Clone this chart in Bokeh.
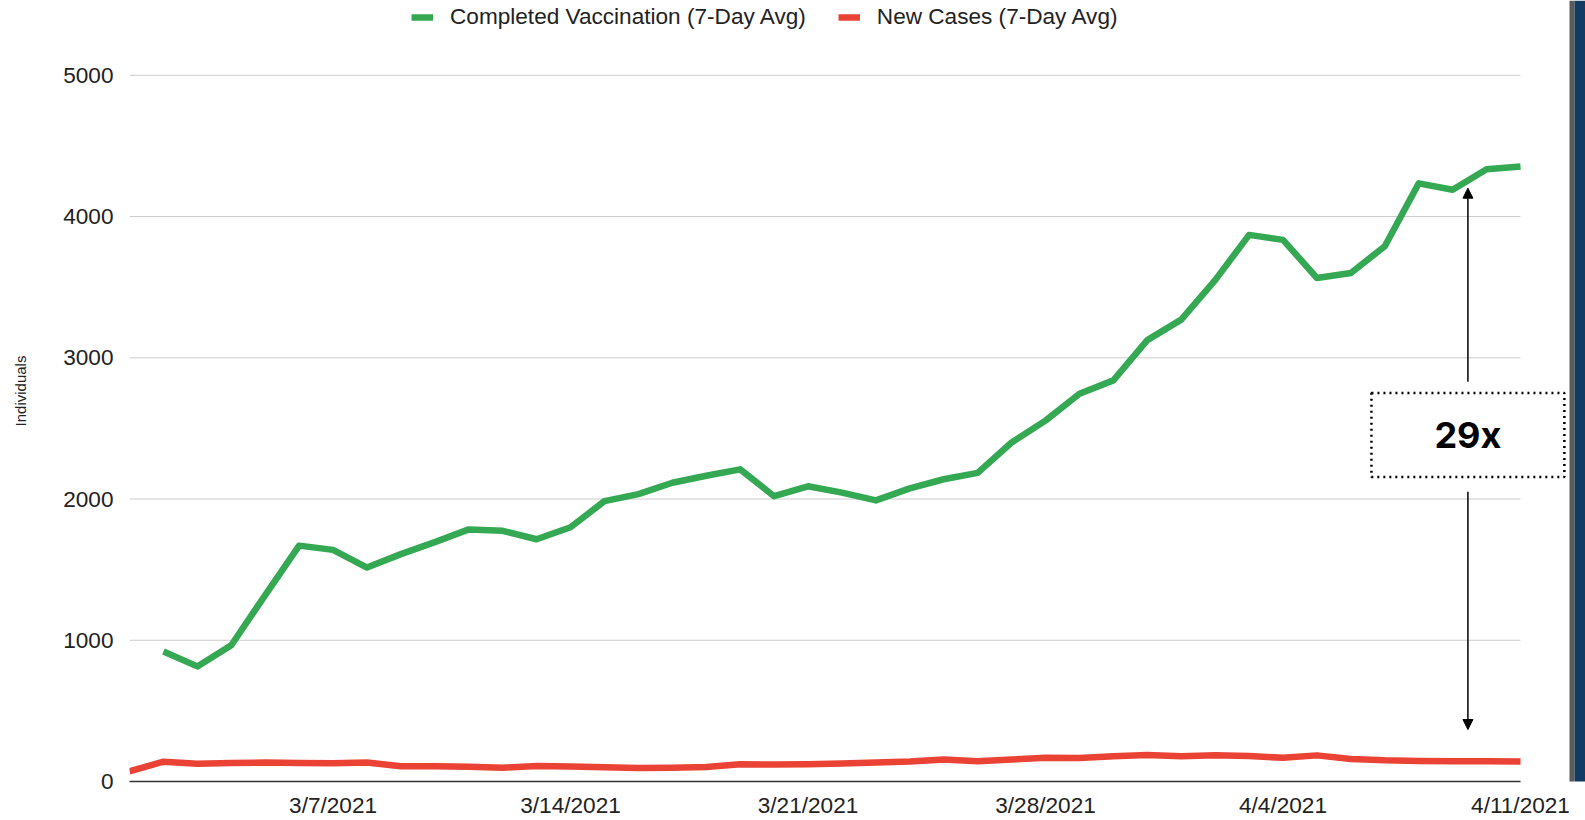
from datetime import datetime
from bokeh.plotting import figure
from bokeh.models import (Range1d, FixedTicker, Legend, LegendItem, Arrow, NormalHead, Label,
                          BoxAnnotation)
from bokeh.embed import file_html
from bokeh.resources import INLINE

# ---------------- data ----------------
dates = ["3/1/2021", "3/2/2021", "3/3/2021", "3/4/2021", "3/5/2021", "3/6/2021", "3/7/2021",
         "3/8/2021", "3/9/2021", "3/10/2021", "3/11/2021", "3/12/2021", "3/13/2021", "3/14/2021",
         "3/15/2021", "3/16/2021", "3/17/2021", "3/18/2021", "3/19/2021", "3/20/2021", "3/21/2021",
         "3/22/2021", "3/23/2021", "3/24/2021", "3/25/2021", "3/26/2021", "3/27/2021", "3/28/2021",
         "3/29/2021", "3/30/2021", "3/31/2021", "4/1/2021", "4/2/2021", "4/3/2021", "4/4/2021",
         "4/5/2021", "4/6/2021", "4/7/2021", "4/8/2021", "4/9/2021", "4/10/2021", "4/11/2021"]

new_cases = [72, 140, 126, 131, 134, 131, 129,
             134, 108, 108, 104, 98, 110, 106,
             101, 95, 97, 103, 122, 120, 122,
             128, 135, 142, 155, 143, 155, 168,
             166, 178, 187, 179, 185, 180, 168,
             185, 160, 150, 146, 144, 143, 141]

vacc_dates = dates[1:]
completed_vaccination = [920, 815, 965, 1320, 1670, 1640,
                         1515, 1610, 1695, 1785, 1775, 1715, 1800,
                         1985, 2035, 2115, 2165, 2210, 2020, 2090,
                         2045, 1990, 2075, 2140, 2185, 2400, 2555,
                         2745, 2840, 3125, 3270, 3550, 3870, 3835,
                         3565, 3600, 3790, 4235, 4190, 4335, 4355]

tick_labels = ["3/7/2021", "3/14/2021", "3/21/2021", "3/28/2021", "4/4/2021", "4/11/2021"]
y_ticks = [0, 1000, 2000, 3000, 4000, 5000]
ratio_label = "29x"

# ---------------- helpers ----------------
t0 = datetime.strptime(dates[0], "%m/%d/%Y")
def day(s):
    return (datetime.strptime(s, "%m/%d/%Y") - t0).days

x_cases = [day(d) for d in dates]
x_vacc = [day(d) for d in vacc_dates]
x_ticks = [day(d) for d in tick_labels]
x_last = x_cases[-1]

FONT = "Liberation Sans"
TXT = "#222222"
FS = "22.6px"

# layout geometry (pixels): plot area from x=129 to 1520, y=75 (5000) to 783 (0)
W, H = 1585, 820
LEFT, RIGHT_DATA, TOP_DATA, BOTTOM = 129, 1520, 75, 37
frame_w = W - LEFT
frame_h = H - BOTTOM
x_end = x_last * frame_w / (RIGHT_DATA - LEFT)
y_end = y_ticks[-1] * frame_h / (frame_h - TOP_DATA)

p = figure(width=W, height=H, output_backend="svg", toolbar_location=None,
           x_range=Range1d(0, x_end), y_range=Range1d(0, y_end),
           min_border_left=LEFT, min_border_right=0, min_border_top=0, min_border_bottom=BOTTOM)
p.outline_line_color = None
p.background_fill_color = "white"
p.border_fill_color = "white"

# horizontal gridlines limited to the data span
p.xgrid.grid_line_color = None
p.ygrid.grid_line_color = None
p.segment(x0=[0] * len(y_ticks), x1=[x_last] * len(y_ticks), y0=y_ticks, y1=y_ticks,
          line_color="#cccccc", line_width=1)

g = p.line(x_vacc, completed_vaccination, line_color="#34a853", line_width=6.5, line_join="round")
r = p.line(x_cases, new_cases, line_color="#ea4335", line_width=6.5, line_join="round")

p.yaxis.ticker = FixedTicker(ticks=y_ticks)
p.yaxis.bounds = (y_ticks[0], y_ticks[-1])
p.yaxis.axis_line_color = None
p.yaxis.major_tick_line_color = None
p.yaxis.minor_tick_line_color = None
p.yaxis.major_label_text_font = FONT
p.yaxis.major_label_text_font_size = FS
p.yaxis.major_label_text_color = TXT
p.yaxis.major_label_standoff = 10
p.yaxis.axis_label = "Individuals"
p.yaxis.axis_label_text_font = FONT
p.yaxis.axis_label_text_font_size = "15px"
p.yaxis.axis_label_text_font_style = "normal"
p.yaxis.axis_label_text_color = TXT
p.yaxis.axis_label_standoff = 31

p.xaxis.ticker = FixedTicker(ticks=x_ticks)
p.xaxis.bounds = (0, x_last)
p.xaxis.major_label_overrides = {x: lab for x, lab in zip(x_ticks, tick_labels)}
p.xaxis.axis_line_color = "#333333"
p.xaxis.axis_line_width = 1.5
p.xaxis.major_tick_line_color = None
p.xaxis.minor_tick_line_color = None
p.xaxis.major_label_text_font = FONT
p.xaxis.major_label_text_font_size = FS
p.xaxis.major_label_text_color = TXT
p.xaxis.major_label_standoff = 5

# legend
legend = Legend(items=[LegendItem(label="Completed Vaccination (7-Day Avg)", renderers=[g]),
                       LegendItem(label="New Cases (7-Day Avg)", renderers=[r])],
                orientation="horizontal", location=(282, 751),
                border_line_color=None, background_fill_alpha=0, padding=0, margin=0,
                spacing=32, label_standoff=17, glyph_width=22, glyph_height=20,
                label_text_font=FONT, label_text_font_size=FS, label_text_color=TXT)
p.add_layout(legend)

# annotation: ratio arrows and dotted box around the ratio
ax = 39.45
p.add_layout(Arrow(x_start=ax, y_start=2831, x_end=ax, y_end=4201, line_width=1.5,
                   line_color="black",
                   end=NormalHead(size=10, fill_color="black", line_color="black")))
p.add_layout(Arrow(x_start=ax, y_start=2051, x_end=ax, y_end=368, line_width=1.5,
                   line_color="black",
                   end=NormalHead(size=10, fill_color="black", line_color="black")))
p.add_layout(Label(x=ax, y=2454, text=ratio_label, text_font="Inter", text_font_style="bold",
                   text_font_size="36px", text_align="center", text_baseline="middle",
                   text_color="black",
                   border_line_color="black", border_line_width=2.5, border_line_dash="2 4",
                   background_fill_color="white", background_fill_alpha=0,
                   padding=dict(left=63, right=63, top=20, bottom=20)))

# right edge strip (gray rule + navy band)
for left, right, color in [(1569, 1574, "#5a5a5a"), (1574, 1585, "#123a63")]:
    p.add_layout(BoxAnnotation(left=left, right=right, top=0, bottom=H,
                               left_units="canvas", right_units="canvas",
                               top_units="canvas", bottom_units="canvas",
                               fill_color=color, fill_alpha=1, line_color=None))

open("out.html", "w").write(file_html(p, INLINE))
